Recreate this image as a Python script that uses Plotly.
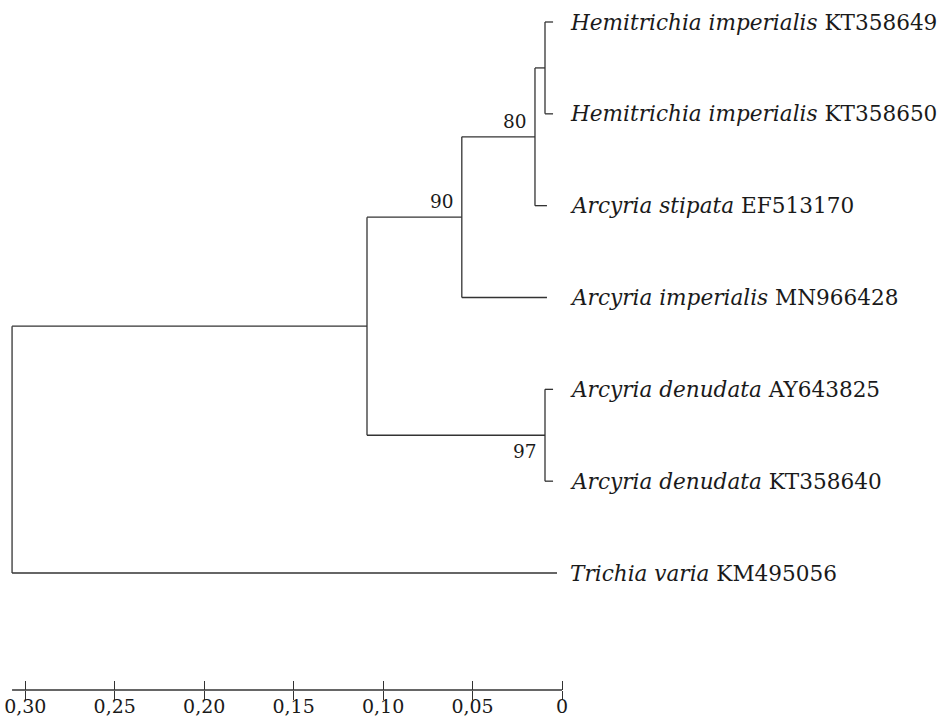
import plotly.graph_objects as go

# Leaves, top to bottom
species = ["Hemitrichia imperialis", "Hemitrichia imperialis", "Arcyria stipata",
           "Arcyria imperialis", "Arcyria denudata", "Arcyria denudata", "Trichia varia"]
accessions = ["KT358649", "KT358650", "EF513170", "MN966428",
              "AY643825", "KT358640", "KM495056"]
tip_depth = [0.0050, 0.0050, 0.0084, 0.0084, 0.0050, 0.0050, 0.0028]

# Internal nodes: name, children, depth on the distance scale, bootstrap support
node_names = ["hemi", "n80", "n90", "den", "ingroup", "root"]
node_children = [["L0", "L1"], ["hemi", "L2"], ["n80", "L3"],
                 ["L4", "L5"], ["n90", "den"], ["ingroup", "L6"]]
node_depth = [0.0095, 0.0151, 0.0560, 0.0095, 0.1090, 0.3074]
node_support = [None, "80", "90", "97", None, None]

# Scale bar
tick_vals = [0.30, 0.25, 0.20, 0.15, 0.10, 0.05, 0.0]
tick_text = ["0,30", "0,25", "0,20", "0,15", "0,10", "0,05", "0"]

LINE = "#333333"
TEXT = "#1a1a1a"
FONT = "DejaVu Serif"

# Node coordinates
pos = {}
for i, d in enumerate(tip_depth):
    pos[f"L{i}"] = (d, float(i))
for name, kids, d in zip(node_names, node_children, node_depth):
    ys = [pos[k][1] for k in kids]
    pos[name] = (d, sum(ys) / len(ys))

# Rectangular branches
xs, ys = [], []
for name, kids in zip(node_names, node_children):
    nx, ny = pos[name]
    kid_y = [pos[k][1] for k in kids]
    xs += [nx, nx, None]
    ys += [min(kid_y), max(kid_y), None]
    for k in kids:
        kx, ky = pos[k]
        xs += [nx, kx, None]
        ys += [ky, ky, None]

fig = go.Figure()
fig.add_trace(go.Scatter(x=xs, y=ys, mode="lines",
                         line=dict(color=LINE, width=1.3),
                         hoverinfo="skip", showlegend=False))
# invisible trace so the overlaid tick axis is rendered
fig.add_trace(go.Scatter(x=[0.0], y=[0.0], xaxis="x2", mode="markers",
                         marker=dict(opacity=0), hoverinfo="skip", showlegend=False))

annotations = []
for i, (sp, acc) in enumerate(zip(species, accessions)):
    annotations.append(dict(
        x=0.603, xref="paper", y=i, yref="y",
        text=f"<i>{sp}</i> {acc}", showarrow=False,
        xanchor="left", yanchor="middle",
        font=dict(family=FONT, size=21.6, color=TEXT)))

for name, sup in zip(node_names, node_support):
    if sup is None:
        continue
    nx, ny = pos[name]
    below = sup == "97"
    annotations.append(dict(
        x=nx, y=ny, xref="x", yref="y", text=sup, showarrow=False,
        xanchor="right", yanchor="top" if below else "bottom",
        xshift=-6, yshift=-4 if below else 3,
        font=dict(family=FONT, size=18.5, color=TEXT)))

xrange = [0.31414, -0.21241]
fig.update_layout(
    width=942, height=718,
    margin=dict(l=0, r=0, t=0, b=28),
    paper_bgcolor="white", plot_bgcolor="white",
    xaxis=dict(range=xrange, showgrid=False, zeroline=False, showline=False,
               automargin=False,
               tickmode="array", tickvals=tick_vals, ticktext=tick_text,
               ticks="outside", ticklen=9, tickwidth=1.3, tickcolor=LINE,
               ticklabelstandoff=-10,
               tickfont=dict(family=FONT, size=19, color=TEXT)),
    xaxis2=dict(range=xrange, overlaying="x", anchor="y", side="bottom",
                automargin=False,
                showgrid=False, zeroline=False, showline=False,
                tickmode="array", tickvals=tick_vals, showticklabels=False,
                ticks="inside", ticklen=9, tickwidth=1.3, tickcolor=LINE),
    yaxis=dict(range=[7.274, -0.2396], visible=False, automargin=False),
    shapes=[dict(type="line", xref="x", yref="paper",
                 x0=node_depth[-1], x1=0.0, y0=0, y1=0,
                 line=dict(color=LINE, width=1.3))],
    annotations=annotations,
)

fig.write_html("out.html")
